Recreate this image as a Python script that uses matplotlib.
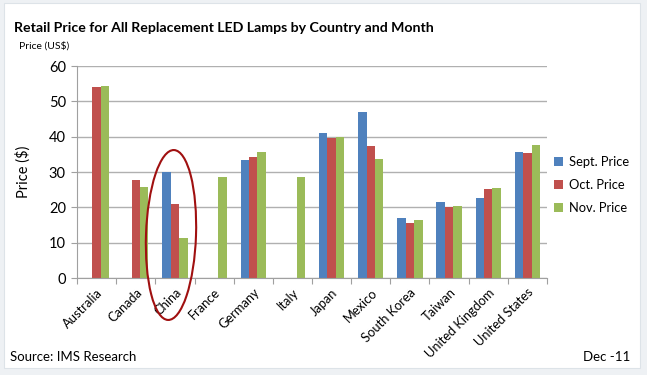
import matplotlib.pyplot as plt
import numpy as np
from matplotlib.patches import Ellipse, Rectangle
from matplotlib.transforms import IdentityTransform

plt.rcParams["font.family"] = ["Lato", "DejaVu Sans"]

countries = ["Australia", "Canada", "China", "France", "Germany", "Italy", "Japan",
             "Mexico", "South Korea", "Taiwan", "United Kingdom", "United States"]
sept = [0, 0, 30.1, 0, 33.5, 0, 40.9, 46.9, 16.9, 21.6, 22.7, 35.7]
octo = [54.0, 27.6, 21.0, 0, 34.3, 0, 39.5, 37.5, 15.6, 20.0, 25.1, 35.3]
nov = [54.4, 25.7, 11.2, 28.7, 35.8, 28.7, 40.0, 33.8, 16.3, 20.3, 25.4, 37.7]
series = {"Sept. Price": sept, "Oct. Price": octo, "Nov. Price": nov}
colors = ["#4F81BD", "#C0504D", "#9BBB59"]

fig = plt.figure(figsize=(6.47, 3.75), dpi=100)
fig.patch.set_facecolor("#eef1f4")
fig.patches.append(Rectangle((4 / 647, 7 / 375), 636 / 647, 365 / 375, transform=fig.transFigure,
                             facecolor="white", edgecolor="#dde3e8", linewidth=0.8, zorder=-5))

ax = fig.add_axes([77 / 647, 1 - 278 / 375, 470 / 647, 212 / 375])
ax.set_facecolor("none")

x = np.arange(len(countries))
w = 0.215
for i, (name, vals) in enumerate(series.items()):
    ax.bar(x + (i - 1) * w, vals, width=w, color=colors[i], label=name, zorder=2)

ax.set_xlim(-0.5, len(countries) - 0.5)
ax.set_ylim(0, 60)
ax.set_yticks(range(0, 61, 10))
ax.yaxis.grid(True, color="#b0b0b0", linewidth=1)
ax.set_axisbelow(True)
for s in ("top", "right"):
    ax.spines[s].set_visible(False)
ax.spines["left"].set_color("#a0a0a0")
ax.spines["bottom"].set_color("#a0a0a0")

ax.set_xticks(np.arange(len(countries) + 1) - 0.5, minor=False)
ax.set_xticklabels([])
ax.set_xticks(x, minor=True)
ax.set_xticklabels(countries, minor=True, rotation=45, ha="right", rotation_mode="anchor", fontsize=9.3)
ax.tick_params(axis="x", which="major", length=4, color="#a0a0a0")
ax.tick_params(axis="x", which="minor", length=0, pad=6)
ax.tick_params(axis="y", length=4, color="#a0a0a0", labelsize=10.5, pad=4)

ax.set_ylabel("Price ($)", fontsize=10.5)
ax.yaxis.set_label_coords(-0.098, 0.5)

ax.legend(loc="center left", bbox_to_anchor=(0.99, 0.44), frameon=False, fontsize=9.3,
          handlelength=0.7, handleheight=0.7, handletextpad=0.45, labelspacing=0.85)

fig.text(14 / 647, 1 - 28 / 375, "Retail Price for All Replacement LED Lamps by Country and Month",
         fontsize=10.2, fontweight="bold", va="center")
fig.text(19 / 647, 1 - 46 / 375, "Price (US$)", fontsize=7.5, va="center")
fig.text(10 / 647, 1 - 357 / 375, "Source: IMS Research", fontsize=9.5, va="center")
fig.text(630 / 647, 1 - 357 / 375, "Dec -11", fontsize=9.5, va="center", ha="right")

fig.patches.append(Ellipse((171, 375 - 235), 50, 170, angle=-2, transform=IdentityTransform(),
                           fill=False, edgecolor="#a01010", linewidth=1.5, zorder=5))

fig.savefig("out.png", dpi=100)
